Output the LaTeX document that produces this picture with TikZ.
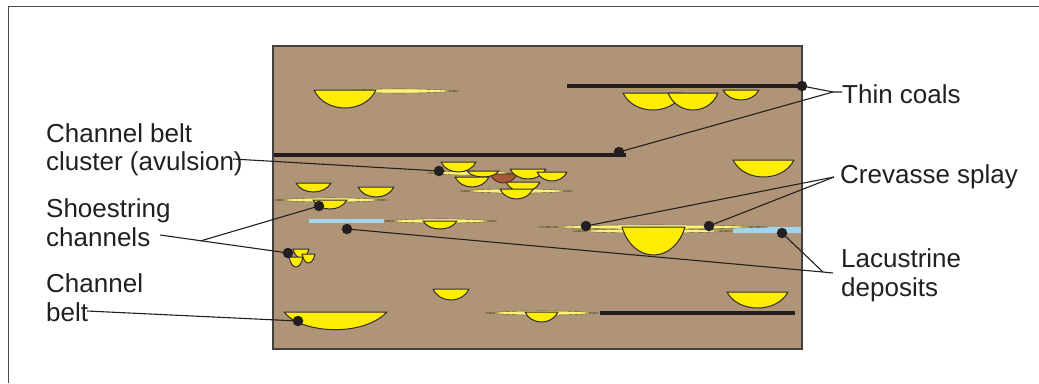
\documentclass[tikz,border=0pt]{standalone}
\usepackage{fontspec}
\setmainfont{Liberation Sans}
\definecolor{ink}{RGB}{35,31,32}
\definecolor{frameline}{RGB}{75,75,75}
\definecolor{sediment}{RGB}{175,148,120}
\definecolor{sand}{RGB}{255,237,0}
\definecolor{chanline}{RGB}{50,45,45}
\definecolor{lake}{RGB}{163,212,238}
\definecolor{mud}{RGB}{168,86,60}
\definecolor{splayend}{RGB}{110,100,60}
\definecolor{splaymid}{RGB}{252,242,120}
\pgfdeclarehorizontalshading{splayshade}{100bp}{%
  color(0bp)=(splayend); color(25bp)=(splayend); color(32bp)=(splaymid);
  color(68bp)=(splaymid); color(75bp)=(splayend); color(100bp)=(splayend)}

% channel fill: flat top from x1 to x2 at y1, bowl reaching down to y2
\newcommand{\chan}[4]{%
  \filldraw[channel] (#1,#3) -- (#2,#3)
    .. controls ({#2-0.18*(#2-#1)},{#3+1.3333*(#4-#3)})
       and ({#1+0.18*(#2-#1)},{#3+1.3333*(#4-#3)}) .. cycle;}
% thin crevasse-splay lens from x1 to x2 at height y
\newcommand{\splay}[3]{%
  \shadedraw[splaylens] (#1,#3)
    .. controls ({#1+0.3*(#2-#1)},{#3-2.8}) and ({#2-0.3*(#2-#1)},{#3-2.8}) .. (#2,#3)
    .. controls ({#2-0.3*(#2-#1)},{#3+2.8}) and ({#1+0.3*(#2-#1)},{#3+2.8}) .. cycle;}

\begin{document}
\begin{tikzpicture}[x=1pt,y=-1pt,
  channel/.style={fill=sand,draw=chanline,line width=1pt,line join=round},
  splaylens/.style={shading=splayshade,draw=splayend!80!black,line width=0.35pt},
  coal/.style={draw=ink,line width=4pt},
  lakebed/.style={draw=lake},
  leader/.style={draw=ink,line width=1.1pt},
  dot/.style={circle,fill=ink,inner sep=0pt,minimum size=10.5pt},
  label/.style={anchor=base west,inner sep=0pt,text=ink,font=\fontsize{26}{29}\selectfont}]
\useasboundingbox (0,0) rectangle (1039,383);

% outer frame
\draw[frameline,line width=1pt] (8,383) -- (8,6) -- (1039,6);

% cross-section block
\filldraw[fill=sediment,draw=ink!85,line width=1.2pt] (273,46) rectangle (802,349);

% coal seams
\draw[coal] (567,86) -- (801,86);
\draw[coal] (274,155) -- (626,155);
\draw[coal] (600,312.5) -- (795,312.5);

% lacustrine deposits
\draw[lakebed,line width=4pt] (309,221) -- (384,221);
\draw[lakebed,line width=5.5pt] (733,230) -- (801,230);

% crevasse splays
\splay{340}{459}{91}
\splay{274}{387}{200}
\splay{384}{497}{221}
\splay{427}{515}{173}
\splay{460}{573}{191}
\splay{538}{768}{227}
\splay{572}{733}{231}
\splay{485}{599}{313}

% channel fills, upper part
\chan{314}{376}{90}{108}
\chan{623}{683}{93}{110}
\chan{668}{718}{93}{110}
\chan{723}{759}{90}{100}
\chan{733}{794}{160}{177}

% channel belt cluster
\filldraw[fill=mud,draw=chanline,line width=0.8pt] (490,174) -- (517,174)
  .. controls (512,186) and (495,186) .. cycle;
\chan{467}{499}{171}{177}
\chan{455}{489}{177}{187}
\chan{441}{476}{162}{172}
\chan{510}{546}{169}{179}
\chan{537}{567}{172}{181}
\chan{506}{540}{182}{192}
\chan{500}{533}{189}{199}

% isolated channels and splay-fed channels
\chan{296}{331}{183}{192}
\chan{358}{394}{187}{197}
\chan{313}{347}{200}{209}
\chan{423}{457}{221}{229}
\chan{622}{685}{227}{255}

% shoestring channels
\chan{293}{309}{249}{258}
\chan{302}{315}{254}{263}
\chan{289}{303}{257}{267}

% lower channels
\chan{433}{469}{289}{300}
\chan{727}{788}{292}{308}
\chan{525}{558}{312}{322}
\filldraw[channel] (284,312) -- (387,312)
  .. controls (362,338) and (300,333) .. cycle;

% leader end points
\coordinate (tcEnd) at (842,92);
\coordinate (tcJoin) at (833,92);
\coordinate (csJoin) at (834,177);
\coordinate (lkEnd) at (833,273);
\coordinate (lkJoin) at (823,272);
\coordinate (cbcStart) at (233,159);
\coordinate (ssStart) at (160,235);
\coordinate (ssJoin) at (201,240.8);
\coordinate (cbStart) at (87,311);

% leaders
\draw[leader] (tcEnd) -- (tcJoin) -- (802,86);
\draw[leader] (tcJoin) -- (619,152);
\draw[leader] (csJoin) -- (586,226);
\draw[leader] (csJoin) -- (709,226);
\draw[leader] (lkEnd) -- (lkJoin) -- (782,233);
\draw[leader] (lkJoin) -- (347,229);
\draw[leader] (cbcStart) -- (439,171);
\draw[leader] (ssStart) -- (288,253);
\draw[leader] (ssJoin) -- (319,206);
\draw[leader] (cbStart) -- (298,321);

% leader dots
\node[dot] (tc1) at (802,86) {};
\node[dot] (tc2) at (619,152) {};
\node[dot] (cbc) at (439,171) {};
\node[dot] (ss1) at (319,206) {};
\node[dot] (ss2) at (288,253) {};
\node[dot] (cb) at (298,321) {};
\node[dot] (cs1) at (586,226) {};
\node[dot] (cs2) at (709,226) {};
\node[dot] (lk1) at (782,233) {};
\node[dot] (lk2) at (347,229) {};

% labels
\node[label] (lblCbcA) at (46,142) {Channel belt};
\node[label] (lblCbcB) at (46,170.5) {cluster (avulsion)};
\node[label] (lblSsA) at (46,217) {Shoestring};
\node[label] (lblSsB) at (46,246.5) {channels};
\node[label] (lblCbA) at (46,292.5) {Channel};
\node[label] (lblCbB) at (46,321.5) {belt};
\node[label] (lblTc) at (842,103) {Thin coals};
\node[label] (lblCs) at (840,183) {Crevasse splay};
\node[label] (lblLkA) at (841,267) {Lacustrine};
\node[label] (lblLkB) at (841,296) {deposits};
\end{tikzpicture}
\end{document}
